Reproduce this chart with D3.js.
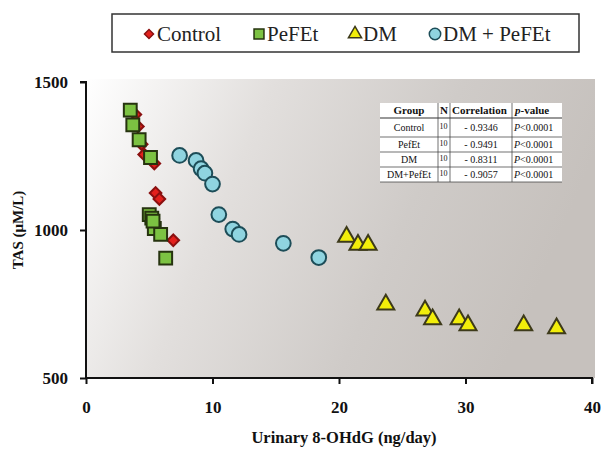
<!DOCTYPE html>
<html>
<head>
<meta charset="utf-8">
<script src="https://cdn.jsdelivr.net/npm/d3@7"></script>
<style>
body { margin: 0; background: #fff; }
svg text { font-family: "Liberation Serif", "Times New Roman", serif; }
</style>
</head>
<body>
<div id="chart"></div>
<script>
// data: [urinary 8-OHdG, TAS]
var control = [[3.9,1390],[4.1,1350],[4.4,1290],[4.6,1255],[5.4,1225],[5.5,1125],[5.8,1105],[5.3,1040],[5.6,1000],[6.9,965]];
var pefet = [[3.5,1405],[3.7,1355],[4.2,1305],[5.1,1245],[5.0,1052],[5.2,1040],[5.4,1005],[5.9,985],[6.3,905],[5.3,1030]];
var dm = [[20.6,977],[21.5,950],[22.3,950],[23.7,748],[26.8,728],[27.4,698],[29.5,698],[30.2,678],[34.6,678],[37.2,668]];
var dmPefet = [[7.4,1252],[8.7,1235],[9.1,1207],[9.4,1192],[10.0,1155],[10.5,1052],[11.6,1003],[12.1,985],[15.6,955],[18.4,907]];

var legendNames = ["Control", "PeFEt", "DM", "DM + PeFEt"];
var xTicks = [0, 10, 20, 30, 40];
var yTicks = [500, 1000, 1500];

// correlation table
var tableHeader = ["Group", "N", "Correlation", "p-value"];
var tableGroups = ["Control", "PefEt", "DM", "DM+PefEt"];
var tableN = [10, 10, 10, 10];
var tableCorr = ["- 0.9346", "- 0.9491", "- 0.8311", "- 0.9057"];
var tableP = ["P<0.0001", "P<0.0001", "P<0.0001", "P<0.0001"];

var width = 603, height = 449;
var svg = d3.select("#chart").append("svg")
    .attr("width", width).attr("height", height);

var x = d3.scaleLinear().domain([0, 40]).range([86, 592]);
var y = d3.scaleLinear().domain([500, 1500]).range([378, 82]);

// plot background gradient
var defs = svg.append("defs");
var grad = defs.append("linearGradient").attr("id", "bg")
    .attr("x1", 0).attr("y1", 0).attr("x2", 1).attr("y2", 0.25);
grad.append("stop").attr("offset", "0%").attr("stop-color", "#ffffff");
grad.append("stop").attr("offset", "35%").attr("stop-color", "#e2dfdd");
grad.append("stop").attr("offset", "70%").attr("stop-color", "#cfcbc8");
grad.append("stop").attr("offset", "100%").attr("stop-color", "#c6c1bd");

svg.append("rect")
    .attr("x", x(0)).attr("y", 79)
    .attr("width", 595 - x(0)).attr("height", y(500) - 79)
    .attr("fill", "url(#bg)");

// axes
var xAxis = svg.append("g")
    .attr("transform", "translate(0," + y(500) + ")")
    .call(d3.axisBottom(x).tickValues(xTicks).tickFormat(d3.format("d")).tickSize(6).tickPadding(17));
var yAxis = svg.append("g")
    .attr("transform", "translate(" + x(0) + ",0)")
    .call(d3.axisLeft(y).tickValues(yTicks).tickFormat(d3.format("d")).tickSize(6).tickPadding(12));

[xAxis, yAxis].forEach(function(a) {
  a.attr("font-family", "Liberation Serif").attr("font-size", 17);
  a.select(".domain").attr("stroke", "#111").attr("stroke-width", 2);
  a.selectAll(".tick line").attr("stroke", "#111").attr("stroke-width", 2);
  a.selectAll(".tick text")
    .attr("fill", "#111")
    .style("font-weight", "bold");
});
xAxis.select(".domain").attr("d", "M" + x(0) + ",0H" + x(40) + "V6");
yAxis.select(".domain").attr("d", "M-6," + y(1500) + "H0V" + y(500));

svg.append("text")
    .attr("x", 344).attr("y", 443)
    .attr("text-anchor", "middle")
    .style("font-weight", "bold").style("font-size", "16.5px")
    .attr("fill", "#111")
    .text("Urinary 8-OHdG (ng/day)");

svg.append("text")
    .attr("transform", "translate(23,230) rotate(-90)")
    .attr("text-anchor", "middle")
    .style("font-weight", "bold").style("font-size", "15px")
    .attr("fill", "#111")
    .text("TAS (μM/L)");

// markers (diamond = rotated square)
var styles = [
  {type: d3.symbolSquare, size: 68, rot: 45, fill: "#e3201c", stroke: "#8a1010"},
  {type: d3.symbolSquare, size: 165, rot: 0, fill: "#7cc242", stroke: "#26330f"},
  {type: d3.symbolTriangle, size: 125, rot: 0, fill: "#f2ee0a", stroke: "#3d3a1a"},
  {type: d3.symbolCircle, size: 170, rot: 0, fill: "#8fd4e0", stroke: "#1d4d58"}
];
var series = [control, pefet, dm, dmPefet];
var drawOrder = [3, 2, 0, 1];

drawOrder.forEach(function(k) {
  var s = styles[k];
  svg.append("g").selectAll("path")
    .data(series[k]).enter().append("path")
    .attr("d", d3.symbol().type(s.type).size(s.size))
    .attr("transform", function(d) {
      return "translate(" + x(d[0]) + "," + y(d[1]) + ") rotate(" + s.rot + ")";
    })
    .attr("fill", s.fill)
    .attr("stroke", s.stroke)
    .attr("stroke-width", 2);
});

// legend
var legend = svg.append("g");
legend.append("rect")
    .attr("x", 112).attr("y", 14).attr("width", 467).attr("height", 38)
    .attr("fill", "#fff").attr("stroke", "#333").attr("stroke-width", 1.5);
var legendX = [149, 259, 355, 435];
legendNames.forEach(function(name, i) {
  var s = styles[i];
  legend.append("path")
    .attr("d", d3.symbol().type(s.type).size(s.size * 0.6))
    .attr("transform", "translate(" + legendX[i] + ",34) rotate(" + s.rot + ")")
    .attr("fill", s.fill).attr("stroke", s.stroke).attr("stroke-width", 1.5);
  legend.append("text")
    .attr("x", legendX[i] + 8).attr("y", 41)
    .style("font-size", "21px").attr("fill", "#222")
    .text(name);
});

// table
var tbl = svg.append("g");
var colX = [380, 438, 450, 512, 562];
var rowY = [103, 118, 137, 152, 167, 182];
tbl.append("rect")
    .attr("x", colX[0]).attr("y", rowY[0])
    .attr("width", colX[4] - colX[0]).attr("height", rowY[5] - rowY[0])
    .attr("fill", "#fff");
rowY.slice(1).forEach(function(ry, i) {
  tbl.append("line")
    .attr("x1", colX[0]).attr("x2", colX[4])
    .attr("y1", ry).attr("y2", ry)
    .attr("stroke", "#333").attr("stroke-width", i == 0 ? 1.2 : 0.7);
});
colX.slice(1, 4).forEach(function(cx) {
  tbl.append("line")
    .attr("x1", cx).attr("x2", cx)
    .attr("y1", rowY[0]).attr("y2", rowY[5])
    .attr("stroke", "#333").attr("stroke-width", 0.7);
});
var headerX = [(colX[0] + colX[1]) / 2, (colX[1] + colX[2]) / 2, colX[2] + 2, colX[3] + 3];
var headerAnchor = ["middle", "middle", "start", "start"];
tableHeader.forEach(function(h, i) {
  var t = tbl.append("text")
    .attr("x", headerX[i]).attr("y", rowY[0] + 11)
    .attr("text-anchor", headerAnchor[i])
    .style("font-weight", "bold").style("font-size", "11px").attr("fill", "#111");
  if (i == 3) {
    t.append("tspan").style("font-style", "italic").text("p");
    t.append("tspan").text("-value");
  } else {
    t.text(h);
  }
});
tableGroups.forEach(function(g, i) {
  var ty = (rowY[i + 1] + rowY[i + 2]) / 2 + 3.5;
  tbl.append("text").attr("x", (colX[0] + colX[1]) / 2).attr("y", ty)
    .attr("text-anchor", "middle").style("font-size", "10px").attr("fill", "#111").text(g);
  tbl.append("text").attr("x", colX[1] + 1.5).attr("y", ty - 2)
    .style("font-size", "8px").attr("fill", "#111").text(tableN[i]);
  tbl.append("text").attr("x", (colX[2] + colX[3]) / 2).attr("y", ty)
    .attr("text-anchor", "middle").style("font-size", "10px").attr("fill", "#111").text(tableCorr[i]);
  var pt = tbl.append("text").attr("x", colX[3] + 2).attr("y", ty)
    .style("font-size", "10px").attr("fill", "#111");
  pt.append("tspan").style("font-style", "italic").text(tableP[i].charAt(0));
  pt.append("tspan").text(tableP[i].slice(1));
});
</script>
</body>
</html>
